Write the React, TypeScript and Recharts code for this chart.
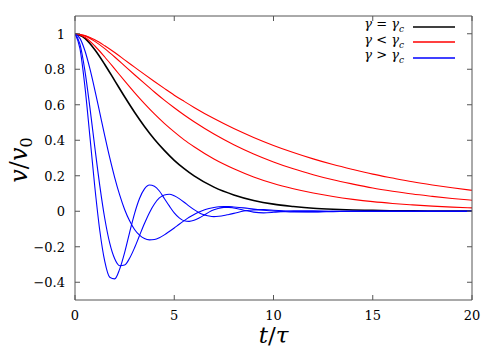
import { Legend, Line, LineChart, XAxis, YAxis } from 'recharts';

// time grid for the slow (critical + overdamped) curves
const T_SLOW = [0, 0.5, 1, 1.5, 2, 2.5, 3, 3.5, 4, 4.5, 5, 5.5, 6, 7, 8, 9, 10, 11, 12, 13, 14, 15, 16, 17, 18, 19, 20];

const CRIT = [1, 0.974, 0.91, 0.827, 0.736, 0.645, 0.558, 0.478, 0.406, 0.343, 0.287, 0.24, 0.199, 0.136, 0.092, 0.061, 0.04, 0.027, 0.017, 0.011, 0.007, 0.005, 0.003, 0.002, 0.001, 0.001, 0.0005];

const RED_1 = [1, 0.99, 0.966, 0.932, 0.894, 0.853, 0.812, 0.771, 0.731, 0.692, 0.654, 0.619, 0.585, 0.522, 0.466, 0.416, 0.371, 0.331, 0.295, 0.263, 0.235, 0.209, 0.187, 0.166, 0.148, 0.132, 0.118];
const RED_2 = [1, 0.988, 0.957, 0.916, 0.869, 0.819, 0.769, 0.72, 0.672, 0.626, 0.583, 0.542, 0.504, 0.435, 0.375, 0.323, 0.278, 0.239, 0.206, 0.177, 0.153, 0.131, 0.113, 0.097, 0.084, 0.072, 0.062];
const RED_3 = [1, 0.98, 0.931, 0.869, 0.802, 0.734, 0.668, 0.606, 0.548, 0.495, 0.447, 0.402, 0.363, 0.294, 0.239, 0.193, 0.156, 0.127, 0.103, 0.083, 0.067, 0.054, 0.044, 0.036, 0.029, 0.023, 0.019];

// finer grid for the oscillating curves
const T_FAST = [
  0, 0.25, 0.5, 0.75, 1, 1.25, 1.5, 1.75, 2, 2.25, 2.5, 2.75, 3, 3.25, 3.5, 3.75, 4,
  4.25, 4.5, 4.75, 5, 5.25, 5.5, 5.75, 6, 6.25, 6.5, 6.75, 7, 7.25, 7.5, 7.75, 8,
  8.5, 9, 9.5, 10, 10.5, 11, 12, 13, 14, 16, 18, 20,
];

const BLUE_1 = [
  1, 0.916, 0.702, 0.422, 0.135, -0.11, -0.283, -0.372, -0.381, -0.326, -0.233, -0.12, -0.013, 0.072, 0.126, 0.148, 0.141,
  0.114, 0.072, 0.03, -0.009, -0.037, -0.054, -0.057, -0.051, -0.038, -0.022, -0.005, 0.008, 0.017, 0.022, 0.022, 0.018,
  0.006, -0.005, -0.009, -0.006, -0.001, 0.002, 0.002, 0, 0, 0, 0, 0,
];
const BLUE_2 = [
  1, 0.942, 0.791, 0.585, 0.359, 0.143, -0.041, -0.18, -0.268, -0.307, -0.303, -0.265, -0.206, -0.137, -0.069, -0.008, 0.041,
  0.075, 0.092, 0.096, 0.087, 0.071, 0.051, 0.029, 0.009, -0.008, -0.02, -0.027, -0.03, -0.028, -0.024, -0.018, -0.012,
  0.001, 0.008, 0.009, 0.006, 0.002, -0.001, -0.002, 0, 0, 0, 0, 0,
];
const BLUE_3 = [
  1, 0.974, 0.904, 0.803, 0.683, 0.554, 0.425, 0.302, 0.19, 0.092, 0.01, -0.054, -0.103, -0.135, -0.154, -0.161, -0.159,
  -0.149, -0.133, -0.114, -0.094, -0.073, -0.053, -0.034, -0.018, -0.004, 0.007, 0.015, 0.021, 0.025, 0.026, 0.026, 0.024,
  0.019, 0.012, 0.006, 0.001, -0.002, -0.004, -0.004, -0.002, 0, 0, 0, 0,
];

const X_TICKS = [0, 5, 10, 15, 20];
const Y_TICKS = [-0.4, -0.2, 0, 0.2, 0.4, 0.6, 0.8, 1];
const LEGEND_NAMES = ['γ = γc', 'γ < γc', 'γ > γc'];
const LEGEND_REL = ['=', '<', '>'];

const FONT = 'DejaVu Serif';
const AXIS = '#555';

const zip = (ts: number[], vs: number[]) => ts.map((t, i) => ({ t, v: vs[i] }));
const fmt = (v: number) => String(v).replace('-', '\u2212');

const BottomTick = ({ x, y, payload }: any) => (
  <g>
    <line x1={x} y1={y} x2={x} y2={y - 5} stroke={AXIS} />
    <text x={x} y={y + 20} textAnchor="middle" fontFamily={FONT} fontSize={13} fill="#000">
      {fmt(payload.value)}
    </text>
  </g>
);
const TopTick = ({ x, y }: any) => <line x1={x} y1={y} x2={x} y2={y + 5} stroke={AXIS} />;
const LeftTick = ({ x, y, payload }: any) => (
  <g>
    <line x1={x} y1={y} x2={x + 5} y2={y} stroke={AXIS} />
    <text x={x - 10} y={y + 5} textAnchor="end" fontFamily={FONT} fontSize={13} fill="#000">
      {fmt(payload.value)}
    </text>
  </g>
);
const RightTick = ({ x, y }: any) => <line x1={x} y1={y} x2={x - 5} y2={y} stroke={AXIS} />;

const renderLegend = ({ payload }: any) => {
  const entries = LEGEND_NAMES.map((n) => (payload || []).find((e: any) => e.value === n)).filter(Boolean);
  return (
    <div style={{ fontFamily: FONT, fontSize: 13, lineHeight: '15.5px' }}>
      {entries.map((e: any, i: number) => (
        <div key={i} style={{ display: 'flex', alignItems: 'center', justifyContent: 'flex-end', height: 15.5 }}>
          <span>
            <i>γ</i> {LEGEND_REL[i]} <i>γ</i>
            <sub style={{ fontSize: 9 }}>
              <i>c</i>
            </sub>
          </span>
          <svg width={42} height={4} style={{ marginLeft: 9 }}>
            <line x1={0} x2={42} y1={2} y2={2} stroke={e.color} strokeWidth={1.3} />
          </svg>
        </div>
      ))}
    </div>
  );
};

export default function App() {
  const series = [
    { key: 'crit', name: LEGEND_NAMES[0], data: zip(T_SLOW, CRIT), color: '#000000', w: 1.6 },
    { key: 'r1', name: LEGEND_NAMES[1], data: zip(T_SLOW, RED_1), color: '#ff0000', w: 1.1 },
    { key: 'r2', name: 'r2', data: zip(T_SLOW, RED_2), color: '#ff0000', w: 1.1 },
    { key: 'r3', name: 'r3', data: zip(T_SLOW, RED_3), color: '#ff0000', w: 1.1 },
    { key: 'b1', name: LEGEND_NAMES[2], data: zip(T_FAST, BLUE_1), color: '#0000ff', w: 1.1 },
    { key: 'b2', name: 'b2', data: zip(T_FAST, BLUE_2), color: '#0000ff', w: 1.1 },
    { key: 'b3', name: 'b3', data: zip(T_FAST, BLUE_3), color: '#0000ff', w: 1.1 },
  ];

  return (
    <div style={{ position: 'absolute', left: 0, top: 0, width: 500, height: 350, background: '#fff', fontFamily: FONT }}>
      <LineChart width={500} height={350} margin={{ top: 10, right: 20, bottom: 0, left: 15 }}>
        <XAxis
          dataKey="t"
          type="number"
          domain={[0, 20]}
          ticks={X_TICKS}
          allowDataOverflow
          height={50}
          tickSize={0}
          tickMargin={0}
          tickLine={false}
          axisLine={{ stroke: AXIS }}
          tick={BottomTick}
          label={{
            content: () => (
              <text x={273.5} y={343} textAnchor="middle" fontFamily={FONT} fontSize={23} fill="#000">
                <tspan fontStyle="italic">t</tspan>
                <tspan>/</tspan>
                <tspan fontStyle="italic">τ</tspan>
              </text>
            ),
          }}
        />
        <XAxis
          xAxisId="top"
          orientation="top"
          dataKey="t"
          type="number"
          domain={[0, 20]}
          ticks={X_TICKS}
          allowDataOverflow
          height={6}
          tickSize={0}
          tickMargin={0}
          tickLine={false}
          axisLine={{ stroke: AXIS }}
          tick={TopTick}
        />
        <YAxis
          type="number"
          domain={[-0.5, 1.1]}
          ticks={Y_TICKS}
          allowDataOverflow
          width={60}
          tickSize={0}
          tickMargin={0}
          tickLine={false}
          axisLine={{ stroke: AXIS }}
          tick={LeftTick}
          label={{
            content: () => (
              <text
                x={27}
                y={160}
                transform="rotate(-90, 27, 160)"
                textAnchor="middle"
                fontFamily={FONT}
                fontSize={24}
                fill="#000"
              >
                <tspan fontStyle="italic">v</tspan>
                <tspan>/</tspan>
                <tspan fontStyle="italic">v</tspan>
                <tspan fontSize={16} dy={5}>
                  0
                </tspan>
              </text>
            ),
          }}
        />
        <YAxis
          yAxisId="right"
          orientation="right"
          type="number"
          domain={[-0.5, 1.1]}
          ticks={Y_TICKS}
          allowDataOverflow
          width={8}
          tickSize={0}
          tickMargin={0}
          tickLine={false}
          axisLine={{ stroke: AXIS }}
          tick={RightTick}
        />
        {series.map((s) => (
          <Line
            key={s.key}
            data={s.data}
            dataKey="v"
            name={s.name}
            type="monotone"
            stroke={s.color}
            strokeWidth={s.w}
            dot={false}
            activeDot={false}
            isAnimationActive={false}
          />
        ))}
        <Legend
          verticalAlign="middle"
          content={renderLegend}
          wrapperStyle={{ position: 'absolute', left: 340, top: 19, width: 115 }}
        />
      </LineChart>
    </div>
  );
}
